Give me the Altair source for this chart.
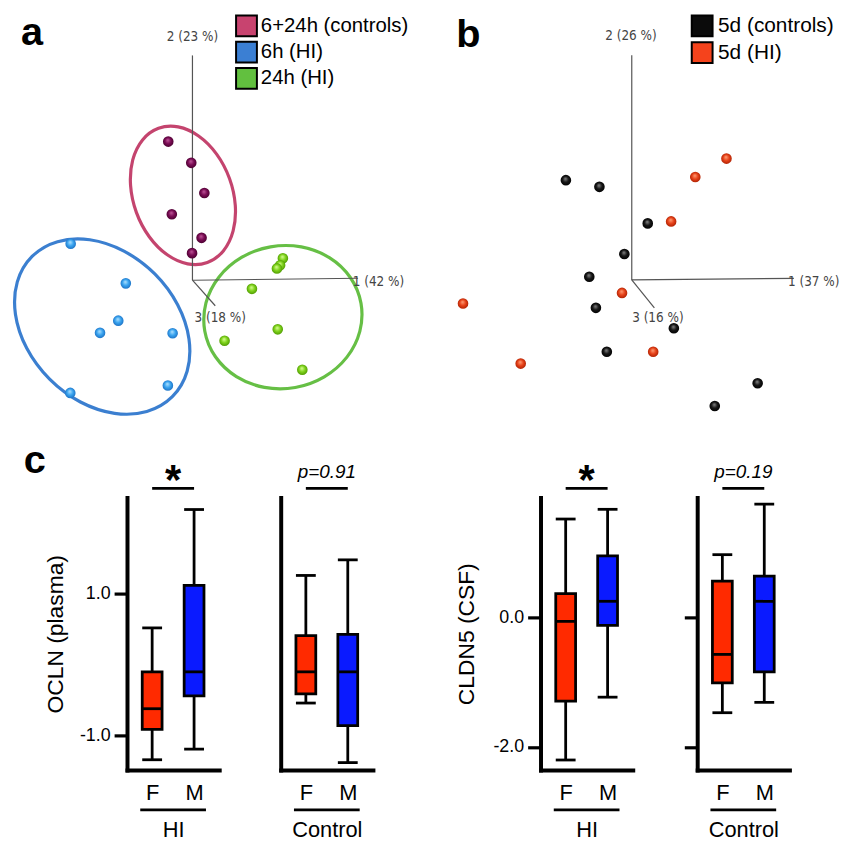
import math
import altair as alt
import pandas as pd

FONT = "Liberation Sans, Arial, Helvetica, sans-serif"
NARROW = "Liberation Sans Narrow, DejaVu Sans Condensed, Arial Narrow, sans-serif"

# ---------------- panel a : PCA, 6 h / 24 h ----------------
a_groups = ["6+24h (controls)", "6h (HI)", "24h (HI)"]
a_legend_colors = ["#c8436f", "#3b7fd3", "#62c03f"]
a_ctrl_x = [-0.61, -0.03, 0.30, -0.52, 0.23, -0.01]
a_ctrl_y = [3.53, 2.99, 2.22, 1.68, 1.08, 0.69]
a_hi6_x = [-3.07, -1.68, -1.87, -2.33, -0.50, -3.08, -0.62]
a_hi6_y = [0.93, -0.08, -1.03, -1.34, -1.35, -2.87, -2.68]
a_hi24_x = [2.28, 2.21, 2.13, 1.50, 2.15, 0.81, 2.77]
a_hi24_y = [0.56, 0.38, 0.30, -0.22, -1.25, -1.54, -2.28]
a_ell_x = [-0.24, -2.275, 2.28]
a_ell_y = [2.16, -1.18, -0.94]
a_axis_names = ["1 (42 %)", "2 (23 %)", "3 (18 %)"]
a_axis_end_x = [4.175, 0.0, 0.575]
a_axis_end_y = [0.05, 5.725, -0.65]
a_axis_lab_x = [4.69, 0.0, 0.70]
a_axis_lab_y = [-0.05, 6.20, -0.975]

# ---------------- panel b : PCA, 5 d ----------------
b_groups = ["5d (controls)", "5d (HI)"]
b_legend_colors = ["#0b0b0b", "#f5431c"]
b_ctrl_x = [-1.69, -0.83, 0.41, -0.19, -1.09, -0.92, 1.08, -0.64, 3.23, 2.13]
b_ctrl_y = [2.54, 2.37, 1.44, 0.66, 0.08, -0.71, -1.23, -1.83, -2.63, -3.21]
b_hi_x = [2.43, 1.63, 1.01, -0.25, -4.33, 0.55, -2.85]
b_hi_y = [3.09, 2.62, 1.49, -0.33, -0.60, -1.83, -2.13]
b_axis_names = ["1 (37 %)", "2 (26 %)", "3 (16 %)"]
b_axis_end_x = [4.16, 0.0, 0.58]
b_axis_end_y = [0.04, 5.72, -0.71]
b_axis_lab_x = [4.67, -0.02, 0.67]
b_axis_lab_y = [-0.06, 6.22, -0.96]

# ---------------- panel c : box plots (min, q1, median, q3, max) ----------------
sex_levels = ["F", "M"]
ocln_hi_F = [-1.34, -0.91, -0.62, -0.10, 0.52]
ocln_hi_M = [-1.19, -0.44, -0.10, 1.12, 2.19]
ocln_ctrl_F = [-0.54, -0.41, -0.10, 0.41, 1.26]
ocln_ctrl_M = [-1.38, -0.86, -0.10, 0.43, 1.48]
cldn5_hi_F = [-2.20, -1.29, -0.06, 0.37, 1.52]
cldn5_hi_M = [-1.23, -0.12, 0.25, 0.95, 1.67]
cldn5_ctrl_F = [-1.47, -1.01, -0.57, 0.56, 0.97]
cldn5_ctrl_M = [-1.31, -0.84, 0.25, 0.64, 1.75]
ocln_ticks = [1.0, -1.0]
cldn5_ticks = [0.0, -2.0]
ocln_domain = [-1.486, 2.361]
cldn5_domain = [-2.356, 1.854]
sig_labels = ["*", "p=0.91", "*", "p=0.19"]
group_labels = ["HI", "Control"]
panel_letters = ["a", "b", "c"]

RED = "#ff2a00"
BLUE = "#0a1aff"


def ellipse_path(r, nseg=16):
    # unit ellipse (x radius 1, y radius r) drawn with cubic Bezier arcs
    d = 2 * math.pi / nseg
    k = 4.0 / 3.0 * math.tan(d / 4)
    parts = ["M1,0"]
    for i in range(nseg):
        t0, t1 = i * d, (i + 1) * d
        c0, s0, c1, s1 = math.cos(t0), math.sin(t0), math.cos(t1), math.sin(t1)
        p1 = (c0 - k * s0, (s0 + k * c0) * r)
        p2 = (c1 + k * s1, (s1 - k * c1) * r)
        p3 = (c1, s1 * r)
        parts.append("C{:.4f},{:.4f} {:.4f},{:.4f} {:.4f},{:.4f}".format(*p1, *p2, *p3))
    return " ".join(parts) + " Z"


def sphere(light, mid, dark):
    return alt.RadialGradient(
        gradient="radial",
        stops=[alt.GradientStop(color=light, offset=0),
               alt.GradientStop(color=mid, offset=0.5),
               alt.GradientStop(color=dark, offset=1)],
        x1=0.45, y1=0.35, r1=0.0, x2=0.5, y2=0.5, r2=0.55)


def pos(xs, ys, fx="pc1", fy="pc2"):
    return dict(x=alt.X(f"{fx}:Q", scale=xs, axis=None),
                y=alt.Y(f"{fy}:Q", scale=ys, axis=None))


def points(px, py, grad, xs, ys, size=115):
    df = pd.DataFrame({"pc1": px, "pc2": py})
    return alt.Chart(df).mark_circle(size=size, fill=grad, opacity=1).encode(**pos(xs, ys))


def ellipse(cx, cy, color, a, ratio, angle, xs, ys):
    df = pd.DataFrame({"pc1": [cx], "pc2": [cy]})
    return alt.Chart(df).mark_point(
        shape=ellipse_path(ratio), size=(2 * a) ** 2, angle=angle, filled=False,
        color=color, stroke=color, strokeWidth=3.2, opacity=1
    ).encode(**pos(xs, ys))


def pca_axes(names, ex, ey, lx, ly, xs, ys):
    df = pd.DataFrame({"name": names, "x0": [0.0] * 3, "y0": [0.0] * 3,
                       "x1": ex, "y1": ey, "lx": lx, "ly": ly})
    rules = alt.Chart(df).mark_rule(color="#555555", strokeWidth=1.2).encode(
        x=alt.X("x0:Q", scale=xs, axis=None), y=alt.Y("y0:Q", scale=ys, axis=None),
        x2="x1:Q", y2="y1:Q")
    labels = alt.Chart(df).mark_text(font=NARROW, fontSize=13.5, color="#444444",
                                     align="center", baseline="middle").encode(
        x=alt.X("lx:Q", scale=xs, axis=None), y=alt.Y("ly:Q", scale=ys, axis=None),
        text="name:N")
    return [rules, labels]


def key_layers(groups, colors, sq_x, txt_x, y_range, font_size):
    df = pd.DataFrame({"group": groups})
    ysc = alt.Scale(type="point", domain=groups, range=y_range, padding=0)
    col = alt.Color("group:N", scale=alt.Scale(domain=groups, range=colors), legend=None)
    sq = alt.Chart(df).mark_square(size=441, stroke="black", strokeWidth=2, opacity=1).encode(
        x=alt.value(sq_x), y=alt.Y("group:N", scale=ysc, axis=None), color=col)
    tx = alt.Chart(df).mark_text(font=FONT, fontSize=font_size, align="left", baseline="middle",
                                 color="black").encode(
        x=alt.value(txt_x), y=alt.Y("group:N", scale=ysc, axis=None), text="group:N")
    return [sq, tx]


def letter(txt, x, y):
    df = pd.DataFrame({"t": [txt]})
    return alt.Chart(df).mark_text(font=FONT, fontSize=40, fontWeight="bold", align="left",
                                   baseline="alphabetic", color="black").encode(
        x=alt.value(x), y=alt.value(y), text="t:N")


TOP_H = 411

# ---- panel a ----
xa = alt.Scale(domain=[-4.55, 5.75], nice=False, zero=False)
ya = alt.Scale(domain=[-3.586, 6.793], nice=False, zero=False)
panel_a = alt.layer(
    ellipse(a_ell_x[0], a_ell_y[0], "#c4446e", 72, 0.694, 70, xa, ya),
    ellipse(a_ell_x[1], a_ell_y[1], "#3b7fd0", 100, 0.75, 45, xa, ya),
    ellipse(a_ell_x[2], a_ell_y[2], "#66bf45", 80, 0.90, 350, xa, ya),
    *pca_axes(a_axis_names, a_axis_end_x, a_axis_end_y, a_axis_lab_x, a_axis_lab_y, xa, ya),
    points(a_ctrl_x, a_ctrl_y, sphere("#c25a9c", "#7b0c55", "#45002c"), xa, ya),
    points(a_hi6_x, a_hi6_y, sphere("#b5e3ff", "#3aa5f0", "#1a6cc0"), xa, ya),
    points(a_hi24_x, a_hi24_y, sphere("#dcff9a", "#80d41c", "#4a9400"), xa, ya),
    *key_layers(a_groups, a_legend_colors, 236.5, 251, [12.5, 65.5], 20.5),
    letter(panel_letters[0], 9, 32),
).resolve_scale(y="independent").properties(width=412, height=TOP_H)

# ---- panel b ----
xb = alt.Scale(domain=[-5.013, 5.267], nice=False, zero=False)
yb = alt.Scale(domain=[-3.593, 6.785], nice=False, zero=False)
panel_b = alt.layer(
    *pca_axes(b_axis_names, b_axis_end_x, b_axis_end_y, b_axis_lab_x, b_axis_lab_y, xb, yb),
    points(b_ctrl_x, b_ctrl_y, sphere("#8a8a8a", "#161616", "#000000"), xb, yb),
    points(b_hi_x, b_hi_y, sphere("#ffa27a", "#e8431a", "#a81e00"), xb, yb),
    *key_layers(b_groups, b_legend_colors, 268, 284, [12.5, 39.5], 21),
    letter(panel_letters[1], 20, 34),
).resolve_scale(y="independent").properties(width=404, height=TOP_H)

top_row = alt.hconcat(panel_a, panel_b, spacing=16).resolve_scale(color="independent")

# ---- panel c ----
W, H = 93, 275


def box_panel(F, M, ydom, ticks, show_labels, ytitle, title_pad, group, sig, sig_star, c_letter=False):
    df = pd.DataFrame({"sex": sex_levels,
                       "lo": [F[0], M[0]], "q1": [F[1], M[1]], "med": [F[2], M[2]],
                       "q3": [F[3], M[3]], "hi": [F[4], M[4]]})
    xs = alt.Scale(type="point", domain=sex_levels, padding=0.6)
    xax = alt.Axis(title=group, labelFont=FONT, labelFontSize=22, labelColor="black", labelAngle=0,
                   labelPadding=13, ticks=False, domain=True, domainWidth=4, domainColor="black",
                   domainCap="square", titleFont=FONT, titleFontSize=22, titleFontWeight="normal",
                   titleColor="black", titlePadding=16, grid=False)
    ys = alt.Scale(domain=ydom, nice=False, zero=False)
    akw = dict(grid=False, domainWidth=4, domainColor="black", domainCap="square",
               titleFont=FONT, titleFontSize=23, titleFontWeight="normal", titleColor="black",
               titlePadding=title_pad)
    if ticks:
        akw.update(values=ticks, tickSize=13, tickWidth=3.2, tickColor="black")
    else:
        akw.update(ticks=False)
    if show_labels:
        akw.update(labelFont=FONT, labelFontSize=18, labelColor="black", labelPadding=4,
                   labelExpr="datum.value < 0 ? '-' + format(-datum.value, '.1f') : format(datum.value, '.1f')")
    else:
        akw.update(labels=False)
    yax = alt.Axis(**akw)

    X = alt.X("sex:N", scale=xs, axis=xax, title=group)

    def Y(f):
        return alt.Y(f"{f}:Q", scale=ys, axis=yax, title=ytitle)

    base = alt.Chart(df)
    whisk = base.mark_rule(color="black", strokeWidth=2.8).encode(x=X, y=Y("lo"), y2="hi:Q")
    cap_lo = base.mark_tick(color="black", size=20, thickness=2.8, opacity=1).encode(x=X, y=Y("lo"))
    cap_hi = base.mark_tick(color="black", size=20, thickness=2.8, opacity=1).encode(x=X, y=Y("hi"))
    box = base.mark_bar(size=20, stroke="black", strokeWidth=2.8, opacity=1).encode(
        x=X, y=Y("q1"), y2="q3:Q",
        color=alt.when(alt.datum.sex == "F").then(alt.value(RED)).otherwise(alt.value(BLUE)))
    med = base.mark_tick(color="black", size=20, thickness=2.8, opacity=1).encode(x=X, y=Y("med"))

    sdf = pd.DataFrame({"label": [sig]})
    sbase = alt.Chart(sdf)
    sig_bar = sbase.mark_rule(color="black", strokeWidth=2.8).encode(
        x=alt.XDatum("F", scale=xs, axis=xax), x2=alt.X2Datum("M"), y=alt.value(-9))
    if sig_star:
        sig_txt = sbase.mark_text(font=FONT, fontSize=42, fontWeight="bold", color="black",
                                  baseline="alphabetic", align="center").encode(
            x=alt.value(W / 2), y=alt.value(-3), text="label:N")
    else:
        sig_txt = sbase.mark_text(font=FONT, fontSize=19, fontStyle="italic", color="black",
                                  baseline="alphabetic", align="center").encode(
            x=alt.value(W / 2), y=alt.value(-20), text="label:N")
    underline = sbase.mark_rule(color="black", strokeWidth=2.8, xOffset=-12, x2Offset=12).encode(
        x=alt.XDatum("F", scale=xs, axis=xax), x2=alt.X2Datum("M"), y=alt.value(H + 40))

    layers = [whisk, cap_lo, cap_hi, box, med, sig_bar, sig_txt, underline]
    if c_letter:
        layers.append(letter(panel_letters[2], -104, -25))
    return alt.layer(*layers).properties(width=W, height=H)


p1 = box_panel(ocln_hi_F, ocln_hi_M, ocln_domain, ocln_ticks, True, "OCLN (plasma)", 12,
               group_labels[0], sig_labels[0], True, c_letter=True)
p2 = box_panel(ocln_ctrl_F, ocln_ctrl_M, ocln_domain, None, False, None, 10,
               group_labels[1], sig_labels[1], False)
p3 = box_panel(cldn5_hi_F, cldn5_hi_M, cldn5_domain, cldn5_ticks, True, "CLDN5 (CSF)", 15,
               group_labels[0], sig_labels[2], True)
p4 = box_panel(cldn5_ctrl_F, cldn5_ctrl_M, cldn5_domain, cldn5_ticks, False, None, 10,
               group_labels[1], sig_labels[3], False)

# narrow empty anchor so the first box panel keeps its left margin inside the figure
anchor = alt.Chart(pd.DataFrame({"t": [0]})).mark_point(
    size=0, opacity=0, filled=True).properties(width=12, height=1)

bottom_row = alt.hconcat(
    alt.hconcat(alt.hconcat(anchor, p1, spacing=0), p2, spacing=62),
    alt.hconcat(p3, p4, spacing=50),
    spacing=82,
)

chart = alt.vconcat(top_row, bottom_row, spacing=20).properties(
    padding={"left": 0, "top": 0, "right": 0, "bottom": 0}, background="white"
).configure_view(stroke=None).configure_axis(grid=False)

chart.save("out.html", embed_options={"renderer": "svg", "actions": False})
